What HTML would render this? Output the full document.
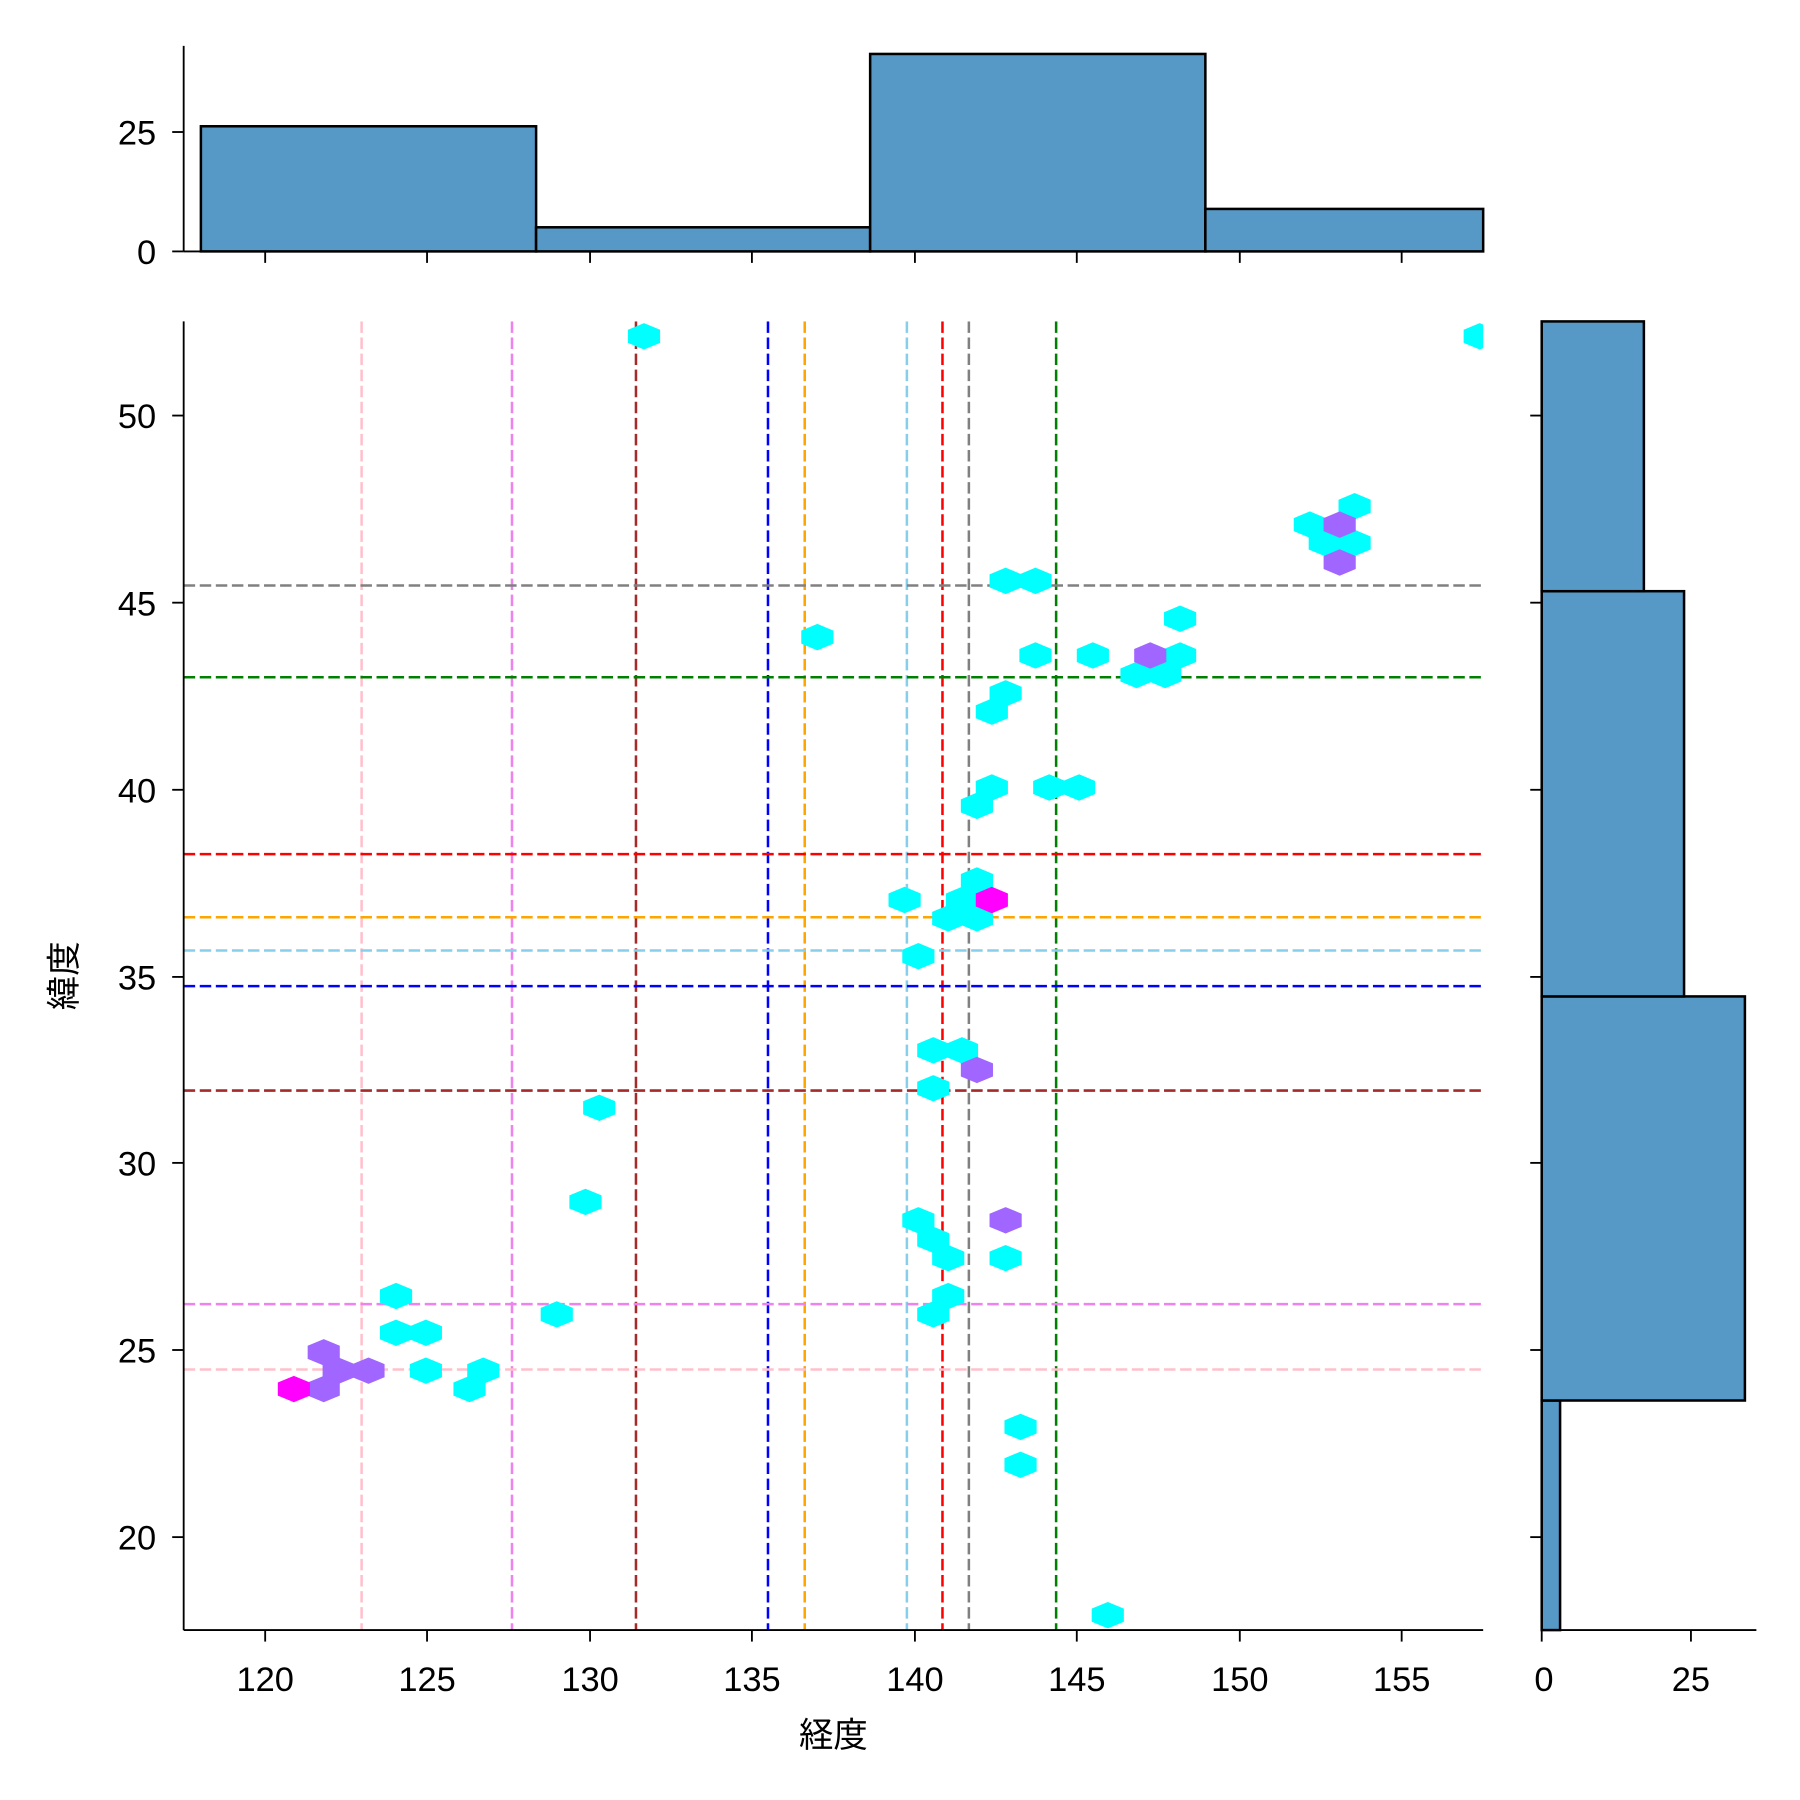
<!DOCTYPE html>
<html><head><meta charset="utf-8"><style>
html,body{margin:0;padding:0;background:#fff}
svg{display:block}
text{font-family:"Liberation Sans","Noto Sans CJK JP",sans-serif;fill:#000}
</style></head><body>
<svg width="1800" height="1800" viewBox="0 0 1568 1568" xmlns="http://www.w3.org/2000/svg">
<defs>
<polygon id="h" points="0,-11.5 14,-5.7 14,5.7 0,11.5 -14,5.7 -14,-5.7"/>
<clipPath id="c"><rect x="160" y="280" width="1132" height="1140"/></clipPath>
</defs>
<!-- top hist -->
<g fill="#5799c6" stroke="#000" stroke-width="2.2">
<rect x="175" y="110" width="292" height="109"/>
<rect x="467" y="198" width="291" height="21"/>
<rect x="758" y="47" width="292" height="172"/>
<rect x="1050" y="182" width="242" height="37"/>
</g>
<g stroke="#000" stroke-width="1.6">
<line x1="160" y1="40" x2="160" y2="219"/>
<line x1="160" y1="219" x2="1292" y2="219"/>
<line x1="150" y1="219" x2="160" y2="219"/><line x1="150" y1="115" x2="160" y2="115"/>
<line x1="231" y1="219" x2="231" y2="229"/><line x1="372" y1="219" x2="372" y2="229"/><line x1="514" y1="219" x2="514" y2="229"/><line x1="655" y1="219" x2="655" y2="229"/><line x1="797" y1="219" x2="797" y2="229"/><line x1="938" y1="219" x2="938" y2="229"/><line x1="1080" y1="219" x2="1080" y2="229"/><line x1="1221" y1="219" x2="1221" y2="229"/>
</g>
<g font-size="30" text-anchor="end">
<text x="136" y="230">0</text><text x="136" y="126">25</text>
</g>
<!-- right hist -->
<g fill="#5799c6" stroke="#000" stroke-width="2.2">
<rect x="1343" y="1220" width="16" height="200"/>
<rect x="1343" y="868" width="177" height="352"/>
<rect x="1343" y="515" width="124" height="353"/>
<rect x="1343" y="280" width="89" height="235"/>
</g>
<g stroke="#000" stroke-width="1.6">
<line x1="1343" y1="280" x2="1343" y2="1420"/>
<line x1="1343" y1="1420" x2="1530" y2="1420"/>
<line x1="1343" y1="1420" x2="1343" y2="1430"/><line x1="1473" y1="1420" x2="1473" y2="1430"/>
<line x1="1333" y1="362" x2="1343" y2="362"/><line x1="1333" y1="525" x2="1343" y2="525"/><line x1="1333" y1="688" x2="1343" y2="688"/><line x1="1333" y1="851" x2="1343" y2="851"/><line x1="1333" y1="1013" x2="1343" y2="1013"/><line x1="1333" y1="1176" x2="1343" y2="1176"/><line x1="1333" y1="1339" x2="1343" y2="1339"/>
</g>
<g font-size="30" text-anchor="middle">
<text x="1345" y="1473">0</text><text x="1473" y="1473">25</text>
</g>
<!-- main -->
<g clip-path="url(#c)">
<g stroke-width="2.2" stroke-dasharray="10,4">
<line x1="315" y1="280" x2="315" y2="1420" stroke="pink"/>
<line x1="446" y1="280" x2="446" y2="1420" stroke="violet"/>
<line x1="554" y1="280" x2="554" y2="1420" stroke="brown"/>
<line x1="669" y1="280" x2="669" y2="1420" stroke="blue"/>
<line x1="701" y1="280" x2="701" y2="1420" stroke="orange"/>
<line x1="790" y1="280" x2="790" y2="1420" stroke="skyblue"/>
<line x1="821" y1="280" x2="821" y2="1420" stroke="red"/>
<line x1="844" y1="280" x2="844" y2="1420" stroke="gray"/>
<line x1="920" y1="280" x2="920" y2="1420" stroke="green"/>
<line x1="160" y1="510" x2="1292" y2="510" stroke="gray"/>
<line x1="160" y1="590" x2="1292" y2="590" stroke="green"/>
<line x1="160" y1="744" x2="1292" y2="744" stroke="red"/>
<line x1="160" y1="799" x2="1292" y2="799" stroke="orange"/>
<line x1="160" y1="828" x2="1292" y2="828" stroke="skyblue"/>
<line x1="160" y1="859" x2="1292" y2="859" stroke="blue"/>
<line x1="160" y1="950" x2="1292" y2="950" stroke="brown"/>
<line x1="160" y1="1136" x2="1292" y2="1136" stroke="violet"/>
<line x1="160" y1="1193" x2="1292" y2="1193" stroke="pink"/>
</g>
<g fill="#00ffff">
<use href="#h" x="561" y="293"/><use href="#h" x="1289" y="293"/><use href="#h" x="1180" y="441"/><use href="#h" x="1141" y="457"/><use href="#h" x="1154" y="473"/><use href="#h" x="1180" y="473"/><use href="#h" x="876" y="506"/><use href="#h" x="902" y="506"/><use href="#h" x="712" y="555"/><use href="#h" x="1028" y="539"/><use href="#h" x="902" y="571"/><use href="#h" x="952" y="571"/><use href="#h" x="1028" y="571"/><use href="#h" x="990" y="588"/><use href="#h" x="1015" y="588"/><use href="#h" x="876" y="604"/><use href="#h" x="864" y="620"/><use href="#h" x="864" y="686"/><use href="#h" x="914" y="686"/><use href="#h" x="940" y="686"/><use href="#h" x="851" y="702"/><use href="#h" x="788" y="784"/><use href="#h" x="851" y="767"/><use href="#h" x="838" y="784"/><use href="#h" x="826" y="800"/><use href="#h" x="851" y="800"/><use href="#h" x="800" y="833"/><use href="#h" x="813" y="915"/><use href="#h" x="838" y="915"/><use href="#h" x="813" y="948"/><use href="#h" x="522" y="965"/><use href="#h" x="510" y="1047"/><use href="#h" x="800" y="1063"/><use href="#h" x="813" y="1080"/><use href="#h" x="826" y="1096"/><use href="#h" x="876" y="1096"/><use href="#h" x="826" y="1129"/><use href="#h" x="813" y="1145"/><use href="#h" x="485" y="1145"/><use href="#h" x="345" y="1129"/><use href="#h" x="345" y="1161"/><use href="#h" x="371" y="1161"/><use href="#h" x="371" y="1194"/><use href="#h" x="421" y="1194"/><use href="#h" x="409" y="1210"/><use href="#h" x="889" y="1243"/><use href="#h" x="889" y="1276"/><use href="#h" x="965" y="1407"/>
</g>
<g fill="#a066ff">
<use href="#h" x="1167" y="457"/><use href="#h" x="1167" y="490"/><use href="#h" x="1002" y="571"/><use href="#h" x="851" y="932"/><use href="#h" x="876" y="1063"/><use href="#h" x="282" y="1178"/><use href="#h" x="295" y="1194"/><use href="#h" x="321" y="1194"/><use href="#h" x="282" y="1210"/>
</g>
<g fill="#ff00ff"><use href="#h" x="864" y="784"/><use href="#h" x="256" y="1210"/></g>
</g>
<g stroke="#000" stroke-width="1.6">
<line x1="160" y1="280" x2="160" y2="1420"/>
<line x1="160" y1="1420" x2="1292" y2="1420"/>
<line x1="231" y1="1420" x2="231" y2="1430"/><line x1="372" y1="1420" x2="372" y2="1430"/><line x1="514" y1="1420" x2="514" y2="1430"/><line x1="655" y1="1420" x2="655" y2="1430"/><line x1="797" y1="1420" x2="797" y2="1430"/><line x1="938" y1="1420" x2="938" y2="1430"/><line x1="1080" y1="1420" x2="1080" y2="1430"/><line x1="1221" y1="1420" x2="1221" y2="1430"/>
<line x1="150" y1="362" x2="160" y2="362"/><line x1="150" y1="525" x2="160" y2="525"/><line x1="150" y1="688" x2="160" y2="688"/><line x1="150" y1="851" x2="160" y2="851"/><line x1="150" y1="1013" x2="160" y2="1013"/><line x1="150" y1="1176" x2="160" y2="1176"/><line x1="150" y1="1339" x2="160" y2="1339"/>
</g>
<g font-size="30" text-anchor="middle">
<text x="231" y="1473">120</text><text x="372" y="1473">125</text><text x="514" y="1473">130</text><text x="655" y="1473">135</text><text x="797" y="1473">140</text><text x="938" y="1473">145</text><text x="1080" y="1473">150</text><text x="1221" y="1473">155</text>
<text x="726" y="1522">経度</text>
</g>
<g font-size="30" text-anchor="end">
<text x="136" y="373">50</text><text x="136" y="536">45</text><text x="136" y="699">40</text><text x="136" y="862">35</text><text x="136" y="1024">30</text><text x="136" y="1187">25</text><text x="136" y="1350">20</text>
</g>
<text font-size="30" text-anchor="middle" transform="translate(66,850) rotate(-90)">緯度</text>
</svg>
</body></html>
